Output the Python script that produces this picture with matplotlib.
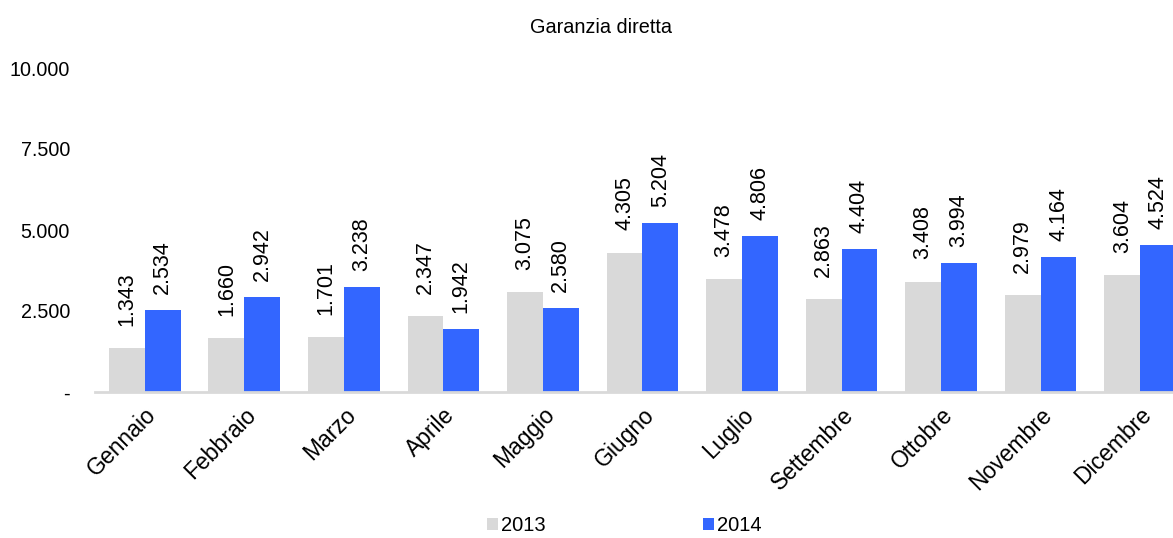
import numpy as np
import matplotlib
matplotlib.use('Agg')
import matplotlib.pyplot as plt

plt.rcParams['font.family'] = ['Liberation Sans', 'DejaVu Sans']

mesi = ['Gennaio', 'Febbraio', 'Marzo', 'Aprile', 'Maggio', 'Giugno', 'Luglio',
        'Settembre', 'Ottobre', 'Novembre', 'Dicembre']
val_2013 = [1343, 1660, 1701, 2347, 3075, 4305, 3478, 2863, 3408, 2979, 3604]
val_2014 = [2534, 2942, 3238, 1942, 2580, 5204, 4806, 4404, 3994, 4164, 4524]
y_ticks = [0, 2500, 5000, 7500, 10000]
y_labels = ['-', '2.500', '5.000', '7.500', '10.000']


def fmt(v):
    return f'{v:,}'.replace(',', '.')


fig = plt.figure(figsize=(11.73, 5.38), dpi=100)
ax = fig.add_axes([95 / 1173, 146 / 538, 1078 / 1173, 324 / 538])

x = np.arange(len(mesi))
w = 0.36
b1 = ax.bar(x - w / 2, val_2013, w, color='#d9d9d9', label='2013')
b2 = ax.bar(x + w / 2, val_2014, w, color='#3366ff', label='2014')

for xi, v in zip(x, val_2013):
    ax.annotate(fmt(v), (xi - w / 2, v), xytext=(0, 16), textcoords='offset points',
                rotation=90, ha='center', va='bottom', fontsize=15.5)
for xi, v in zip(x, val_2014):
    ax.annotate(fmt(v), (xi + w / 2, v), xytext=(0, 11.5), textcoords='offset points',
                rotation=90, ha='center', va='bottom', fontsize=15.5)

ax.set_xlim(-0.5, 10.33)
ax.set_ylim(0, 10000)
ax.set_yticks(y_ticks)
ax.set_yticklabels(y_labels, fontsize=14.2)
ax.set_xticks(x)
ax.set_xticklabels(mesi, rotation=45, ha='right', va='top', rotation_mode='anchor', fontsize=16.5)
ax.tick_params(axis='y', length=0, pad=18)
ax.tick_params(axis='x', length=0, pad=8)
for s in ['top', 'right', 'left']:
    ax.spines[s].set_visible(False)
ax.spines['bottom'].set_color('#d9d9d9')
ax.spines['bottom'].set_linewidth(2)

fig.text(0.512, 0.948, 'Garanzia diretta', ha='center', va='center', fontsize=14.3)
fig.legend(handles=[b1, b2], loc='lower center', bbox_to_anchor=(0.532, 0.0), ncol=2, frameon=False,
           fontsize=14.5, handlelength=0.55, handleheight=0.55, handletextpad=0.15, columnspacing=7.8,
           borderpad=0.05, borderaxespad=0.1)

fig.savefig('out.png', dpi=100)
